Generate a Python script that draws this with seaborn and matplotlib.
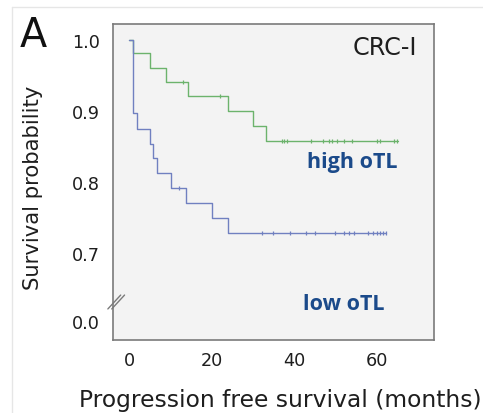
import numpy as np
import pandas as pd
import seaborn as sns
import matplotlib
matplotlib.use("Agg")
import matplotlib.pyplot as plt
from matplotlib.lines import Line2D

# ---- data ----
high_times = [0.0, 0.95, 5.1, 8.9, 14.3, 24.1, 30.1, 33.1, 65.2]
high_surv = [1.0, 0.981, 0.960, 0.941, 0.921, 0.900, 0.879, 0.858, 0.858]
high_cens_t = [13.1, 22.0, 37.0, 37.6, 38.4, 44.1, 47.0, 48.4, 49.2, 50.5, 52.0,
               54.0, 60.0, 60.7, 64.1, 64.9]

low_times = [0.0, 1.05, 1.86, 5.1, 5.9, 6.7, 10.1, 13.9, 20.2, 24.1, 62.3]
low_surv = [1.0, 0.897, 0.875, 0.854, 0.833, 0.813, 0.791, 0.770, 0.749, 0.728, 0.728]
low_cens_t = [12.2, 32.2, 35.0, 39.0, 42.9, 45.1, 49.9, 52.1, 53.2, 54.4, 57.9,
              59.2, 60.0, 60.8, 61.5, 62.3]

x_ticks = [0, 20, 40, 60]
y_tick_labels = ["0.0", "0.7", "0.8", "0.9", "1.0"]
ZERO_POS = 0.6037  # axis is broken: 0.0 drawn just below 0.7


def step_value(times, surv, t):
    idx = np.searchsorted(times, t, side="right") - 1
    return surv[idx]


high_df = pd.DataFrame({"t": high_times, "s": high_surv})
low_df = pd.DataFrame({"t": low_times, "s": low_surv})
high_c = pd.DataFrame({"t": high_cens_t,
                       "s": [step_value(high_times, high_surv, t) for t in high_cens_t]})
low_c = pd.DataFrame({"t": low_cens_t,
                      "s": [step_value(low_times, low_surv, t) for t in low_cens_t]})

sns.set_style("white")
plt.rcParams["font.family"] = ["DejaVu Sans"]

GREEN = "#6cb36c"
BLUE = "#7080c0"
TEXTBLUE = "#1b4a8a"
TXT = "#1e1e1e"

fig = plt.figure(figsize=(4.83, 4.14), dpi=100)
ax = fig.add_axes([113 / 483, 1 - 341 / 414, 321 / 483, 316 / 414])
ax.set_facecolor("#f3f3f3")

sns.lineplot(data=high_df, x="t", y="s", drawstyle="steps-post", color=GREEN,
             linewidth=1.0, ax=ax, estimator=None, sort=False)
sns.lineplot(data=low_df, x="t", y="s", drawstyle="steps-post", color=BLUE,
             linewidth=1.0, ax=ax, estimator=None, sort=False)
sns.scatterplot(data=high_c, x="t", y="s", marker="|", s=12, color=GREEN,
                linewidth=0.9, ax=ax)
sns.scatterplot(data=low_c, x="t", y="s", marker="|", s=12, color=BLUE,
                linewidth=0.9, ax=ax)

ax.set_xlim(-3.88, 73.9)
ax.set_ylim(0.5769, 1.0226)
ax.set_xticks(x_ticks)
ax.set_xticklabels([str(v) for v in x_ticks])
ax.set_yticks([ZERO_POS, 0.7, 0.8, 0.9, 1.0])
ax.set_yticklabels(y_tick_labels)

for sp in ax.spines.values():
    sp.set_color("#7a7a7a")
    sp.set_linewidth(1.2)
ax.tick_params(axis="both", which="major", direction="out", length=3.6, width=1,
               color="#7a7a7a", labelsize=12.7, labelcolor=TXT)
ax.tick_params(axis="y", pad=6)
ax.tick_params(axis="x", pad=4.5)

ax.set_xlabel("Progression free survival (months)", fontsize=16.8, color=TXT)
ax.xaxis.set_label_coords(0.52, -0.152)
ax.set_ylabel("Survival probability", fontsize=15.2, color=TXT)
ax.yaxis.set_label_coords(-0.218, 0.486)

# axis-break marks
for dx in (-0.006, 0.006):
    ax.add_line(Line2D([0.01 + dx - 0.02, 0.01 + dx + 0.02], [0.6207, 0.6403],
                       transform=ax.get_yaxis_transform(), color="#7a7a7a",
                       linewidth=1.0, clip_on=False))

ax.text(0.947, 0.905, "CRC-I", transform=ax.transAxes, ha="right", va="baseline",
        fontsize=17.2, color=TXT)
ax.text(0.745, 0.547, "high oTL", transform=ax.transAxes, ha="center",
        va="baseline", fontsize=15.5, fontweight="bold", color=TEXTBLUE,
        family=["Open Sans", "DejaVu Sans"])
ax.text(0.72, 0.098, "low oTL", transform=ax.transAxes, ha="center",
        va="baseline", fontsize=15.5, fontweight="bold", color=TEXTBLUE,
        family=["Open Sans", "DejaVu Sans"])

fig.text(20 / 483, 1 - 47 / 414, "A", fontsize=28.6, ha="left", va="baseline",
         color="#111111")

# faint image border
fig.add_artist(Line2D([12 / 483, 1], [1 - 8 / 414, 1 - 8 / 414],
                      transform=fig.transFigure, color="#e6e6e6", linewidth=1))
fig.add_artist(Line2D([12 / 483, 12 / 483], [0, 1 - 8 / 414],
                      transform=fig.transFigure, color="#e6e6e6", linewidth=1))

fig.savefig("out.png", dpi=100)
